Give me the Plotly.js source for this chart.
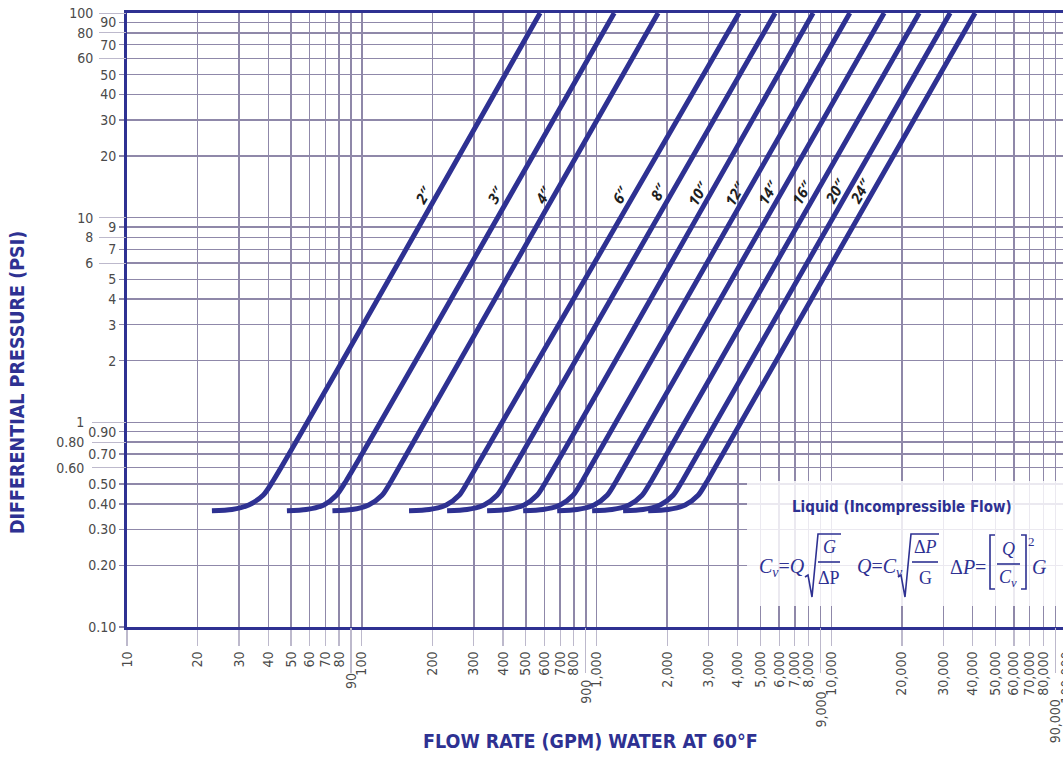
<!DOCTYPE html>
<html>
<head>
<meta charset="utf-8">
<script src="https://cdn.plot.ly/plotly-3.0.1.min.js"></script>
<style>
html,body{margin:0;padding:0;overflow:hidden;background:#fff;}
#chart{width:1100px;height:757px;}
</style>
</head>
<body>
<div id="chart"></div>
<script>
// ---- data ----
const sizeLabels = ['2″','3″','4″','6″','8″','10″','12″','14″','16″','20″','24″'];
// differential pressure (psi) along each curve (same read levels for all curves)
const dpCurve = [0.37, 0.375, 0.395, 0.44, 0.52, 100];
// flow rate (gpm) at those pressures, per valve size
const flow2  = [23, 28, 33, 38, 42, 575];
const flow3  = [48, 58, 69, 78, 86, 1190];
const flow4  = [75, 91, 107, 122, 134, 1830];
const flow6  = [159, 194, 229, 260, 285, 4050];
const flow8  = [231, 281, 332, 377, 414, 5770];
const flow10 = [342, 416, 492, 558, 613, 8370];
const flow12 = [487, 592, 700, 795, 873, 12000];
const flow14 = [680, 827, 977, 1110, 1218, 16800];
const flow16 = [958, 1165, 1377, 1564, 1717, 23700];
const flow20 = [1298, 1579, 1866, 2121, 2328, 32100];
const flow24 = [1660, 2019, 2386, 2710, 2974, 41000];
const flows = [flow2, flow3, flow4, flow6, flow8, flow10, flow12, flow14, flow16, flow20, flow24];

// tick labels
const xTickVals = [10,20,30,40,50,60,70,80,100,200,300,400,500,600,700,800,1000,2000,3000,4000,5000,6000,7000,8000,10000,20000,30000,40000,50000,60000,70000,80000,100000];
const xTickText = ['10','20','30','40','50','60','70','80','100','200','300','400','500','600','700','800','1,000','2,000','3,000','4,000','5,000','6,000','7,000','8,000','10,000','20,000','30,000','40,000','50,000','60,000','70,000','80,000','100,000'];
const xTickVals9 = [90, 900, 9000, 90000];
const xTickText9 = ['90','900','9,000','90,000'];
const yTickValsR = [90,70,50,40,30,20,9,7,5,4,3,2,0.9,0.7,0.5,0.4,0.3,0.2,0.1];
const yTickTextR = ['90','70','50','40','30','20','9','7','5','4','3','2','0.90','0.70','0.50','0.40','0.30','0.20','0.10'];
const yTickValsL = [100,80,60,10,8,6];
const yTickTextL = ['100','80','60','10','8','6'];
const yTickValsL2 = [1, 0.8, 0.6];
const yTickTextL2 = ['1','0.80','0.60'];

// ---- styling ----
const BLUE = '#2e3192';
const GRID = '#8f88a9';
const LIGHT = '#bdb9cc';
const TXT = '#4a4a4a';
const NARROW = '"Liberation Sans Narrow", "DejaVu Sans Condensed", "Roboto", sans-serif';
const SERIF = '"Liberation Serif", "DejaVu Serif", serif';

const L = 127, T = 13, PW = 939, PH = 614;
const px = x => (x - L) / PW;
const py = y => (T + PH - y) / PH;

// empty helper traces so that the overlaid tick axes are drawn
const axisHolders = [
  {x: [], y: [], xaxis: 'x2', yaxis: 'y', type: 'scatter', mode: 'lines', hoverinfo: 'skip'},
  {x: [], y: [], xaxis: 'x', yaxis: 'y2', type: 'scatter', mode: 'lines', hoverinfo: 'skip'},
  {x: [], y: [], xaxis: 'x', yaxis: 'y3', type: 'scatter', mode: 'lines', hoverinfo: 'skip'}
];

const traces = axisHolders.concat(flows.map((f, i) => ({
  x: f, y: dpCurve, type: 'scatter', mode: 'lines',
  name: sizeLabels[i], hoverinfo: 'x+y+name',
  line: {color: BLUE, width: 5, shape: 'spline', smoothing: 0.7}
})));

// label positions (pixel centres) for the size labels
const labelPos = [[423,195],[495,195],[543,195],[620,195],[658,192],[698,193],[735,193],[768,192],[802,192],[835,191],[860,191]];

const annotations = sizeLabels.map((s, i) => ({
  xref: 'paper', yref: 'paper', x: px(labelPos[i][0]), y: py(labelPos[i][1]),
  text: '<b><i>' + s + '</i></b>', showarrow: false, textangle: -60,
  font: {family: '"Open Sans", "Noto Sans", sans-serif', size: 15, color: '#1e1e1e'},
  xanchor: 'center', yanchor: 'middle'
}));

// the staggered "9" tick labels on the flow axis (centres in pixels)
const nineMid = [681, 692, 710, 721];
xTickVals9.forEach((v, i) => annotations.push({
  xref: 'x', yref: 'paper', x: Math.log10(v), y: py(nineMid[i]), text: xTickText9[i],
  showarrow: false, textangle: -90, xanchor: 'center', yanchor: 'middle',
  font: {family: NARROW, size: 14, color: TXT}
}));

function ann(x, y, text, size, extra) {
  return Object.assign({xref:'paper', yref:'paper', x: px(x), y: py(y), text: text, showarrow:false,
    xanchor:'center', yanchor:'middle', font:{family: SERIF, size: size, color: BLUE}}, extra || {});
}
// axis titles
annotations.push({xref:'paper', yref:'paper', x: px(590), y: py(741), text:'<b>FLOW RATE (GPM) WATER AT 60°F</b>',
  showarrow:false, xanchor:'center', yanchor:'middle', font:{family: NARROW, size: 19.5, color: BLUE}});
annotations.push({xref:'paper', yref:'paper', x: px(17), y: py(383), text:'<b>DIFFERENTIAL PRESSURE (PSI)</b>',
  showarrow:false, textangle:-90, xanchor:'center', yanchor:'middle', font:{family: NARROW, size: 19.5, color: BLUE}});
// formula box texts
annotations.push({xref:'paper', yref:'paper', x: px(902), y: py(507), text:'<b>Liquid (Incompressible Flow)</b>',
  showarrow:false, xanchor:'center', yanchor:'middle', font:{family: NARROW, size: 15, color: BLUE}});
annotations.push(ann(782, 567, '<i>C</i><sub><i>v</i></sub>=<i>Q</i>', 20));
annotations.push(ann(829, 547, '<i>G</i>', 18));
annotations.push(ann(829, 578, 'ΔP', 18));
annotations.push(ann(880, 567, '<i>Q</i>=<i>C</i><sub><i>v</i></sub>', 20));
annotations.push(ann(925, 547, 'Δ<i>P</i>', 18));
annotations.push(ann(925, 578, 'G', 18));
annotations.push(ann(968, 567, 'Δ<i>P</i>=', 20));
annotations.push(ann(1008, 549, '<i>Q</i>', 18));
annotations.push(ann(1008, 578, '<i>C</i><sub><i>v</i></sub>', 18));
annotations.push(ann(1031, 541, '2', 13));
annotations.push(ann(1039, 567, '<i>G</i>', 20));

function pathPx(pts) {
  return pts.map((p, i) => (i ? 'L ' : 'M ') + px(p[0]) + ',' + py(p[1])).join(' ');
}
const fline = {color: BLUE, width: 1.6};
const shapes = [
  {type:'rect', xref:'paper', yref:'paper', x0: px(747), x1: px(1075), y0: py(606), y1: py(481),
   fillcolor:'rgba(255,255,255,0.82)', line:{width:0}, layer:'above'},
  // formula 1 root + bar
  {type:'path', xref:'paper', yref:'paper', path: pathPx([[805,577],[808,575],[812,597],[818,534],[841,534]]), line: fline, layer:'above'},
  {type:'line', xref:'paper', yref:'paper', x0: px(818), x1: px(840), y0: py(562), y1: py(562), line: fline, layer:'above'},
  // formula 2 root + bar
  {type:'path', xref:'paper', yref:'paper', path: pathPx([[898,577],[901,575],[905,597],[911,534],[939,534]]), line: fline, layer:'above'},
  {type:'line', xref:'paper', yref:'paper', x0: px(912), x1: px(938), y0: py(562), y1: py(562), line: fline, layer:'above'},
  // formula 3 brackets + bar
  {type:'path', xref:'paper', yref:'paper', path: pathPx([[995,535],[990,535],[990,589],[995,589]]), line: fline, layer:'above'},
  {type:'path', xref:'paper', yref:'paper', path: pathPx([[1021,535],[1026,535],[1026,589],[1021,589]]), line: fline, layer:'above'},
  {type:'line', xref:'paper', yref:'paper', x0: px(997), x1: px(1020), y0: py(564), y1: py(564), line: fline, layer:'above'}
];

const tickFont = {family: NARROW, size: 14, color: TXT};
const yRange = [-1, 2];
const xRange = [1, 5];

const layout = {
  width: 1100, height: 757,
  margin: {l: L, r: 1100 - L - PW, t: T, b: 757 - T - PH, pad: 0},
  paper_bgcolor: '#fff', plot_bgcolor: '#fff',
  showlegend: false,
  xaxis: {type:'log', range: xRange, autorange: false, tickmode:'array', tickvals: xTickVals, ticktext: xTickText,
    tickangle: -90, ticks:'outside', ticklen: 16, tickwidth: 1.2, tickcolor: LIGHT, tickfont: tickFont,
    showgrid: true, gridcolor: GRID, gridwidth: 1.5, showline: true, linecolor: BLUE, linewidth: 3, mirror: true,
    zeroline: false, fixedrange: true},
  xaxis2: {type:'log', range: xRange, autorange: false, overlaying:'x', anchor:'y', side:'bottom', tickmode:'array',
    tickvals: xTickVals9, ticktext: xTickText9, showticklabels: false, ticks:'outside', ticklen: 45, tickwidth: 1.2,
    tickcolor: LIGHT, showgrid: true, gridcolor: GRID, gridwidth: 1.5, showline:false, zeroline:false},
  yaxis: {type:'log', range: yRange, autorange: false, tickmode:'array', tickvals: yTickValsR, ticktext: yTickTextR,
    ticks:'outside', ticklen: 5, tickwidth: 1.5, tickcolor: GRID, tickfont: tickFont,
    showgrid: true, gridcolor: GRID, gridwidth: 1.5, showline: true, linecolor: BLUE, linewidth: 3, mirror: true,
    zeroline: false, fixedrange: true},
  yaxis2: {type:'log', range: yRange, autorange: false, overlaying:'y', anchor:'x', side:'left', tickmode:'array',
    tickvals: yTickValsL, ticktext: yTickTextL, ticks:'outside', ticklen: 27, tickwidth: 1, tickcolor: LIGHT,
    ticklabelstandoff: 3,
    tickfont: tickFont, showgrid: true, gridcolor: GRID, gridwidth: 1.5, showline:false, zeroline:false},
  yaxis3: {type:'log', range: yRange, autorange: false, overlaying:'y', anchor:'x', side:'left', tickmode:'array',
    tickvals: yTickValsL2, ticktext: yTickTextL2, ticks:'outside', ticklen: 34, tickwidth: 1, tickcolor: LIGHT,
    ticklabelstandoff: 5,
    tickfont: tickFont, showgrid: true, gridcolor: GRID, gridwidth: 1.5, showline:false, zeroline:false},
  annotations: annotations,
  shapes: shapes
};

Plotly.newPlot('chart', traces, layout, {displayModeBar: false, staticPlot: true});
</script>
</body>
</html>
